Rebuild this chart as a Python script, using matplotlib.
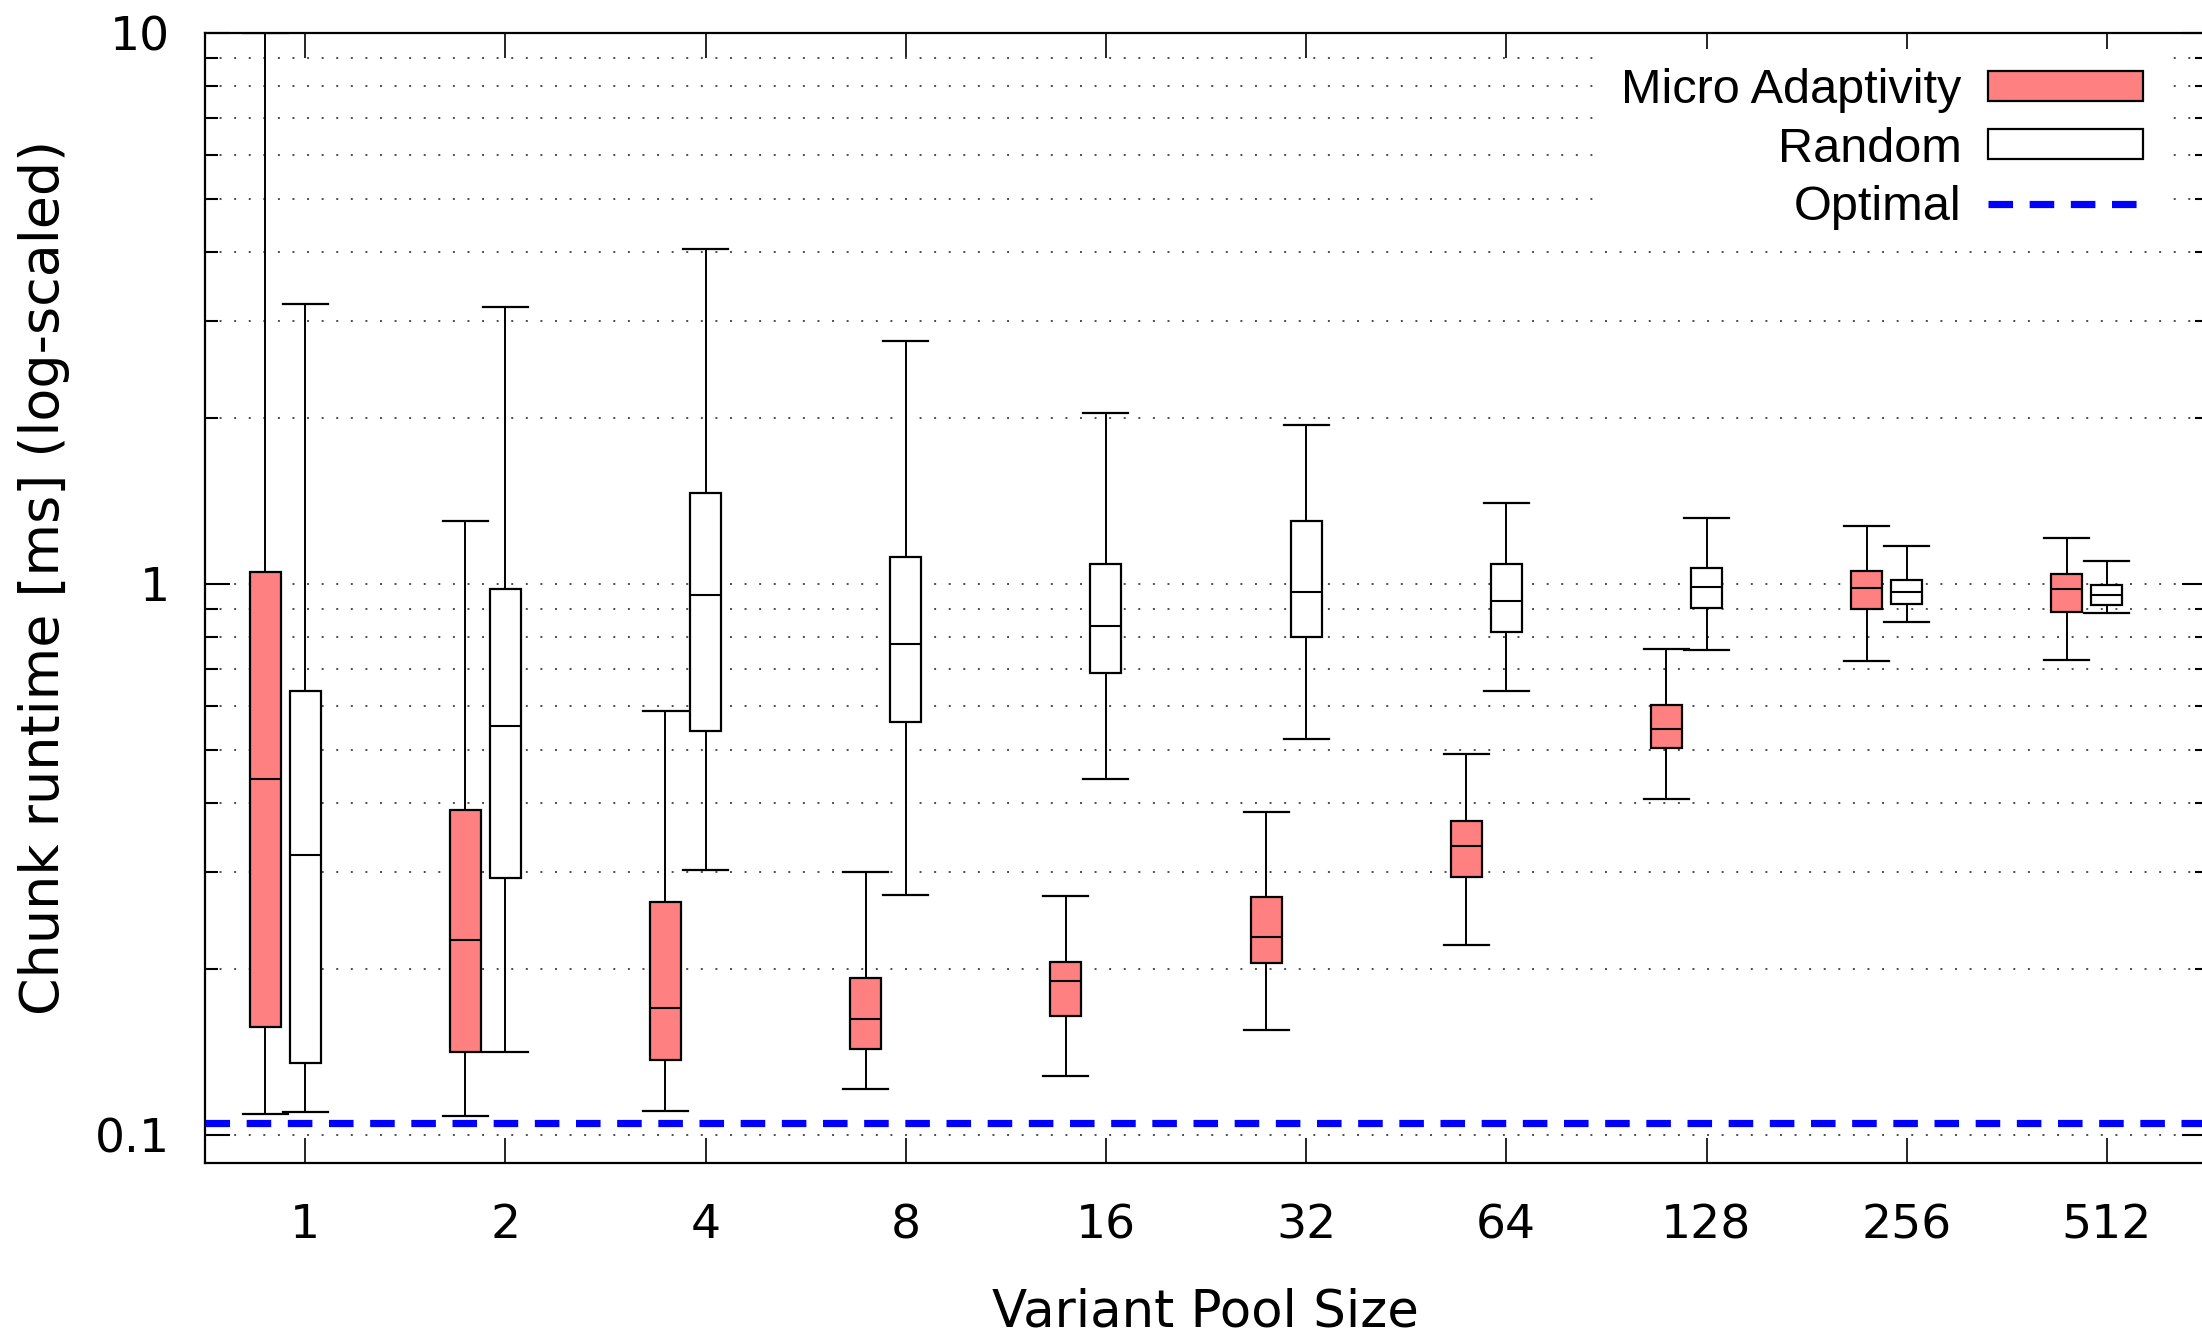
import matplotlib
matplotlib.use("Agg")
import matplotlib.pyplot as plt
from matplotlib.patches import Patch
from matplotlib.lines import Line2D
from matplotlib.ticker import FixedLocator, NullFormatter
from matplotlib import font_manager as fm

# ---------------- data ----------------
pool_sizes = ["1", "2", "4", "8", "16", "32", "64", "128", "256", "512"]

# Micro Adaptivity: whisker low, Q1, median, Q3, whisker high  [ms]
ma_low = [0.109, 0.108, 0.1105, 0.121, 0.128, 0.155, 0.221, 0.407, 0.724, 0.728]
ma_q1 = [0.157, 0.1415, 0.1365, 0.143, 0.164, 0.205, 0.294, 0.503, 0.900, 0.889]
ma_med = [0.442, 0.226, 0.170, 0.162, 0.190, 0.229, 0.334, 0.546, 0.982, 0.977]
ma_q3 = [1.05, 0.388, 0.265, 0.193, 0.206, 0.270, 0.371, 0.603, 1.054, 1.042]
ma_high = [10.0, 1.30, 0.589, 0.300, 0.271, 0.386, 0.491, 0.763, 1.273, 1.214]

# Random: whisker low, Q1, median, Q3, whisker high  [ms]
rnd_low = [0.110, 0.1415, 0.302, 0.273, 0.442, 0.524, 0.640, 0.759, 0.853, 0.884]
rnd_q1 = [0.135, 0.293, 0.540, 0.562, 0.690, 0.800, 0.819, 0.905, 0.921, 0.916]
rnd_med = [0.322, 0.552, 0.954, 0.777, 0.838, 0.965, 0.932, 0.988, 0.965, 0.954]
rnd_q3 = [0.64, 0.98, 1.46, 1.12, 1.086, 1.30, 1.086, 1.067, 1.018, 0.994]
rnd_high = [3.22, 3.18, 4.05, 2.76, 2.04, 1.94, 1.40, 1.318, 1.17, 1.099]

optimal = 0.105

series_labels = ["Micro Adaptivity", "Random", "Optimal"]
y_major = [0.1, 1, 10]
y_major_labels = ["0.1", "1", "10"]

# ---------------- style ----------------
MA_COLOR = "#ff8080"
W, H = 2202, 1333
DPI = 100

names = {f.name for f in fm.fontManager.ttflist}
if "Liberation Sans Narrow" in names:
    legend_font = dict(family="Liberation Sans Narrow", size=40)
else:
    legend_font = dict(family="Liberation Sans", size=35)

plt.rcParams["font.family"] = ["DejaVu Sans"]

fig = plt.figure(figsize=(W / DPI, H / DPI), dpi=DPI)
# axes spans x in [-0.5, 9.5]; right spine falls just outside the picture
ax = fig.add_axes([205 / W, 170 / H, 2002 / W, 1130 / H])

n = len(pool_sizes)
xs = list(range(n))


def stats(lo, q1, med, q3, hi):
    return [dict(whislo=a, q1=b, med=c, q3=d, whishi=e, fliers=[])
            for a, b, c, d, e in zip(lo, q1, med, q3, hi)]


common = dict(widths=0.155, capwidths=0.225, patch_artist=True,
              showfliers=False, manage_ticks=False,
              medianprops=dict(color="black", lw=1.5),
              whiskerprops=dict(color="black", lw=1.4),
              capprops=dict(color="black", lw=1.6))

ax.bxp(stats(ma_low, ma_q1, ma_med, ma_q3, ma_high),
       positions=[x - 0.2 for x in xs],
       boxprops=dict(facecolor=MA_COLOR, edgecolor="black", lw=1.6),
       **common)
ax.bxp(stats(rnd_low, rnd_q1, rnd_med, rnd_q3, rnd_high),
       positions=xs,
       boxprops=dict(facecolor="white", edgecolor="black", lw=1.6),
       **common)

ax.axhline(optimal, color="#0000ff", lw=5.2, ls=(0, (3.4, 2.3)),
           dash_capstyle="butt", zorder=4)

ax.set_yscale("log")
ax.set_ylim(0.0889, 10)
ax.set_xlim(-0.5, n - 0.5)

ax.yaxis.set_major_locator(FixedLocator(y_major))
ax.set_yticklabels(y_major_labels)
minors = [m * d for d in (0.1, 1) for m in range(2, 10)]
ax.yaxis.set_minor_locator(FixedLocator(minors))
ax.yaxis.set_minor_formatter(NullFormatter())

ax.set_xticks(xs)
ax.set_xticklabels(pool_sizes)

ax.tick_params(axis="x", which="major", direction="in", length=18, width=1.2,
               top=True, bottom=True, labelsize=34, pad=29)
ax.tick_params(axis="y", which="major", direction="in", length=18, width=1.5,
               left=True, right=True, labelsize=34, pad=25)
ax.tick_params(axis="y", which="minor", direction="in", length=9, width=1.5,
               left=True, right=True)

ax.grid(True, axis="y", which="both", color="0.3", lw=1.4,
        ls=(0, (1, 6.5)))
ax.set_axisbelow(True)

for s in ax.spines.values():
    s.set_linewidth(1.6)

ax.set_xlabel("Variant Pool Size", fontsize=37)
ax.set_ylabel("Chunk runtime [ms] (log-scaled)", fontsize=38.8)
ax.xaxis.set_label_coords(0.4995, -0.110)
ax.yaxis.set_label_coords(-0.0675, 0.518)

handles = [Patch(facecolor=MA_COLOR, edgecolor="black", lw=1.6),
           Patch(facecolor="white", edgecolor="black", lw=1.6),
           Line2D([], [], color="#0000ff", lw=5.2, ls=(0, (3.4, 2.3)))]
fs_px = legend_font["size"] * DPI / 72
leg = ax.legend(handles, series_labels, prop=legend_font,
                loc="upper right", bbox_to_anchor=(2162 / W, 1 - 49 / H),
                bbox_transform=fig.transFigure, markerfirst=False,
                handlelength=155 / fs_px, handleheight=28 / fs_px,
                handletextpad=26 / fs_px, labelspacing=0.27,
                borderpad=0.4, borderaxespad=0, frameon=True,
                fancybox=False, framealpha=1, facecolor="white",
                edgecolor="none")
leg.set_zorder(6)

fig.savefig("out.png", dpi=DPI)
